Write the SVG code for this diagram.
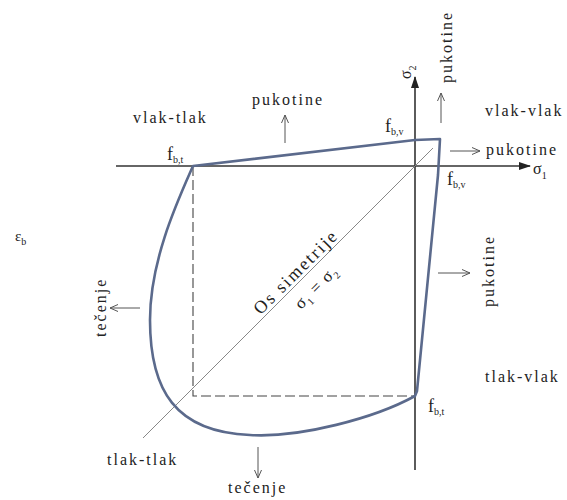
<svg xmlns="http://www.w3.org/2000/svg" width="567" height="500" viewBox="0 0 567 500">
<defs>
<marker id="open" markerWidth="10" markerHeight="10" refX="9" refY="5" orient="auto" markerUnits="userSpaceOnUse">
<path d="M1,1.5 L9,5 L1,8.5" fill="none" stroke="#555" stroke-width="1"/>
</marker>
<marker id="solid" markerWidth="12" markerHeight="10" refX="11" refY="5" orient="auto" markerUnits="userSpaceOnUse">
<path d="M0,1 L12,5 L0,9 Z" fill="#222"/>
</marker>
</defs>
<style>
text{font-family:"Liberation Serif",Tinos,"Nimbus Roman","FreeSerif","Noto Serif","DejaVu Serif",Georgia,serif;fill:#222}
.lbl{font-size:16px;letter-spacing:2px}
.f{font-size:18px}
.sub{font-size:10px}
.axis{stroke:#333;stroke-width:1.6;fill:none}
.dash{stroke:#444;stroke-width:1.1;stroke-dasharray:10 4;fill:none}
.diag{stroke:#888;stroke-width:1;fill:none}
.env{stroke:#5b6a8c;stroke-width:2.6;fill:none;stroke-linejoin:round}
.arr{stroke:#555;stroke-width:1;fill:none;marker-end:url(#open)}
</style>
<rect width="567" height="500" fill="#fff"/>
<g id="connectors">
<line class="axis" x1="116" y1="166" x2="530" y2="166" marker-end="url(#solid)"/>
<line class="axis" x1="415" y1="470" x2="415" y2="77" marker-end="url(#solid)"/>
<line class="diag" x1="433" y1="148" x2="143" y2="438"/>
<polyline class="dash" points="193,166 193,396 415,396"/>
<line class="arr" x1="285" y1="143" x2="285" y2="115"/>
<line class="arr" x1="441" y1="123" x2="441" y2="93"/>
<line class="arr" x1="450" y1="151" x2="480" y2="151"/>
<line class="arr" x1="438" y1="273" x2="470" y2="273"/>
<line class="arr" x1="140" y1="308" x2="110" y2="308"/>
<line class="arr" x1="258" y1="447" x2="258" y2="478"/>
</g>
<g id="envelope">
<path class="env" d="M193,166 L415,140 L440,139 L438,175 L417,391 L415,396 C375,418 300,438 250,435 C175,432 150,390 150,320 C150,260 178,200 193,166 Z"/>
</g>
<g id="axis-labels">
<text x="533" y="174" font-size="16">σ<tspan class="sub" dy="5">1</tspan></text>
<text transform="translate(411,79) rotate(-90)" font-size="16">σ<tspan class="sub" dy="5">2</tspan></text>
</g>
<g id="quadrants">
<text class="lbl" x="133" y="123">vlak-tlak</text>
<text class="lbl" x="485" y="116">vlak-vlak</text>
<text class="lbl" x="485" y="382">tlak-vlak</text>
<text class="lbl" x="107" y="465">tlak-tlak</text>
</g>
<g id="effects">
<text class="lbl" x="252" y="105">pukotine</text>
<text class="lbl" transform="translate(452,83) rotate(-90)">pukotine</text>
<text class="lbl" x="486" y="155">pukotine</text>
<text class="lbl" transform="translate(494,307) rotate(-90)">pukotine</text>
<text class="lbl" transform="translate(106,337) rotate(-90)">tečenje</text>
<text class="lbl" x="228" y="493">tečenje</text>
</g>
<g id="strengths">
<text class="f" x="167" y="160">f<tspan class="sub" dy="3">b,t</tspan></text>
<text class="f" x="385" y="132">f<tspan class="sub" dy="3">b,v</tspan></text>
<text class="f" x="447" y="185">f<tspan class="sub" dy="3">b,v</tspan></text>
<text class="f" x="428" y="412">f<tspan class="sub" dy="3">b,t</tspan></text>
<text x="15" y="241" font-size="15">ε<tspan class="sub" dy="4">b</tspan></text>
</g>
<g id="symmetry">
<text transform="translate(300,276) rotate(-45)" text-anchor="middle" font-size="18" letter-spacing="2">Os simetrije</text>
<text transform="translate(320,291) rotate(-45)" text-anchor="middle" font-size="17" letter-spacing="1">σ<tspan class="sub" dy="4">1</tspan><tspan dy="-4"> = σ</tspan><tspan class="sub" dy="4">2</tspan></text>
</g>
</svg>
